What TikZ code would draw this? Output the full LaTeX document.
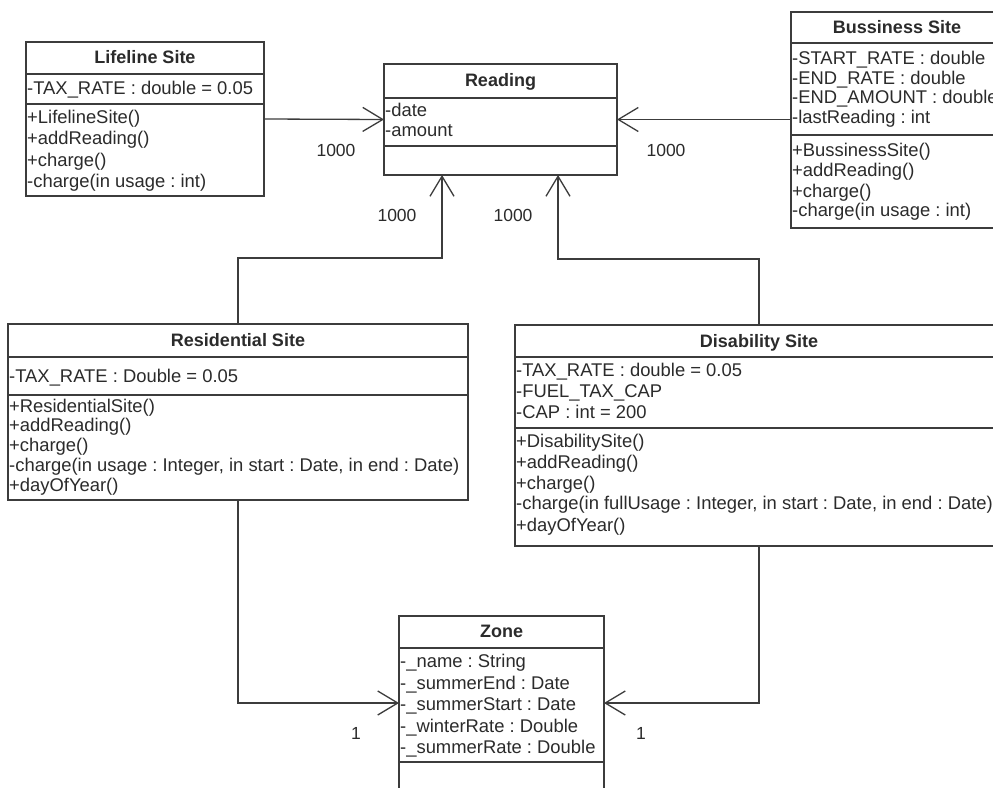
\documentclass[tikz,border=0pt]{standalone}
\usepackage{fontspec}
\setmainfont{Liberation Sans}
\usetikzlibrary{arrows.meta,calc}
\definecolor{ink}{HTML}{2B2B2B}
\definecolor{edge}{HTML}{3C3C3C}
\frenchspacing
\begin{document}
\begin{tikzpicture}[x=1pt,y=-1pt,
  classbox/.style={draw=edge, line width=1.6pt, fill=white, inner sep=0pt, outer sep=0pt, anchor=north west},
  sep/.style={draw=edge, line width=1.4pt},
  title/.style={font=\fontsize{18}{20}\selectfont\bfseries, text=ink, inner sep=0pt, anchor=base},
  member/.style={font=\fontsize{18.4}{20}\selectfont, text=ink, inner sep=0pt, anchor=base west},
  mult/.style={font=\fontsize{17.5}{20}\selectfont, text=ink, inner sep=0pt},
  assoc/.style={draw=edge, line width=1.3pt, -{Straight Barb[length=20pt,width=24pt,line width=1.3pt]}},
]
\useasboundingbox (0,0) rectangle (993,787);
\fill[white] (0,0) rectangle (993,787);
\clip (0,0) rectangle (993,787);

% ---------- Lifeline Site ----------
\node[classbox, minimum width=238pt, minimum height=154pt] (life) at (26,42) {};
\draw[sep] (26,74) -- (264,74);
\draw[sep] (26,104) -- (264,104);
\node[title] (life-t) at (145,63.5) {Lifeline Site};
\node[member] (life-a1) at (27,94) {-TAX\_RATE : double = 0.05};
\node[member] (life-m1) at (27,123) {+LifelineSite()};
\node[member] (life-m2) at (27,144.5) {+addReading()};
\node[member] (life-m3) at (27,166) {+charge()};
\node[member] (life-m4) at (27,187.5) {-charge(in usage : int)};

% ---------- Reading ----------
\node[classbox, minimum width=233pt, minimum height=111pt] (reading) at (384,64) {};
\draw[sep] (384,98) -- (617,98);
\draw[sep] (384,146) -- (617,146);
\node[title] (reading-t) at (500.5,86.5) {Reading};
\node[member] (reading-a1) at (385,116) {-date};
\node[member] (reading-a2) at (385,136) {-amount};

% ---------- Bussiness Site ----------
\node[classbox, minimum width=212pt, minimum height=216pt] (biz) at (791,12) {};
\draw[sep] (791,43) -- (1003,43);
\draw[sep] (791,135) -- (1003,135);
\node[title] (biz-t) at (897,33.5) {Bussiness Site};
\node[member] (biz-a1) at (792,64) {-START\_RATE : double};
\node[member] (biz-a2) at (792,84) {-END\_RATE : double};
\node[member] (biz-a3) at (792,103.5) {-END\_AMOUNT : double};
\node[member] (biz-a4) at (792,123) {-lastReading : int};
\node[member] (biz-m1) at (792,156) {+BussinessSite()};
\node[member] (biz-m2) at (792,176) {+addReading()};
\node[member] (biz-m3) at (792,197) {+charge()};
\node[member] (biz-m4) at (792,216) {-charge(in usage : int)};

% ---------- Residential Site ----------
\node[classbox, minimum width=460pt, minimum height=176pt] (res) at (8,324) {};
\draw[sep] (8,357) -- (468,357);
\draw[sep] (8,395) -- (468,395);
\node[title] (res-t) at (238,346.5) {Residential Site};
\node[member] (res-a1) at (9,382) {-TAX\_RATE : Double = 0.05};
\node[member] (res-m1) at (9,412) {+ResidentialSite()};
\node[member] (res-m2) at (9,431.5) {+addReading()};
\node[member] (res-m3) at (9,451) {+charge()};
\node[member] (res-m4) at (9,471) {-charge(in usage : Integer, in start : Date, in end : Date)};
\node[member] (res-m5) at (9,491) {+dayOfYear()};

% ---------- Disability Site ----------
\node[classbox, minimum width=488pt, minimum height=221pt] (dis) at (515,325) {};
\draw[sep] (515,357) -- (1003,357);
\draw[sep] (515,428) -- (1003,428);
\node[title] (dis-t) at (759,347.5) {Disability Site};
\node[member] (dis-a1) at (516,376) {-TAX\_RATE : double = 0.05};
\node[member] (dis-a2) at (516,397) {-FUEL\_TAX\_CAP};
\node[member] (dis-a3) at (516,418) {-CAP : int = 200};
\node[member] (dis-m1) at (516,447) {+DisabilitySite()};
\node[member] (dis-m2) at (516,468) {+addReading()};
\node[member] (dis-m3) at (516,489) {+charge()};
\node[member] (dis-m4) at (516,509) {-charge(in fullUsage : Integer, in start : Date, in end : Date)};
\node[member] (dis-m5) at (516,531) {+dayOfYear()};

% ---------- Zone ----------
\node[classbox, minimum width=205pt, minimum height=220pt] (zone) at (399,616) {};
\draw[sep] (399,648) -- (604,648);
\draw[sep] (399,762) -- (604,762);
\node[title] (zone-t) at (501.5,637.5) {Zone};
\node[member] (zone-a1) at (400,667) {-\_name : String};
\node[member] (zone-a2) at (400,689) {-\_summerEnd : Date};
\node[member] (zone-a3) at (400,710) {-\_summerStart : Date};
\node[member] (zone-a4) at (400,732) {-\_winterRate : Double};
\node[member] (zone-a5) at (400,753) {-\_summerRate : Double};

% ---------- associations ----------
\draw[assoc] (life.east) -- (reading.west);
\draw[assoc] (biz.west |- reading.east) -- (reading.east);
\draw[assoc] (res.north) |- ($(reading.south west)+(58,83)$) -- ($(reading.south west)+(58,0)$);
\draw[assoc] (dis.north) |- ($(reading.south west)+(174,84)$) -- ($(reading.south west)+(174,0)$);
\draw[assoc] (res.south) |- ($(zone.north west)+(0,87)$);
\draw[assoc] (dis.south) |- ($(zone.north east)+(0,87)$);

% ---------- multiplicities ----------
\node[mult] (m-life) at (336,150) {1000};
\node[mult] (m-biz) at (666,150) {1000};
\node[mult] (m-res) at (397,215) {1000};
\node[mult] (m-dis) at (513,215) {1000};
\node[mult] (m-zres) at (356,733) {1};
\node[mult] (m-zdis) at (641,733) {1};
\end{tikzpicture}
\end{document}
